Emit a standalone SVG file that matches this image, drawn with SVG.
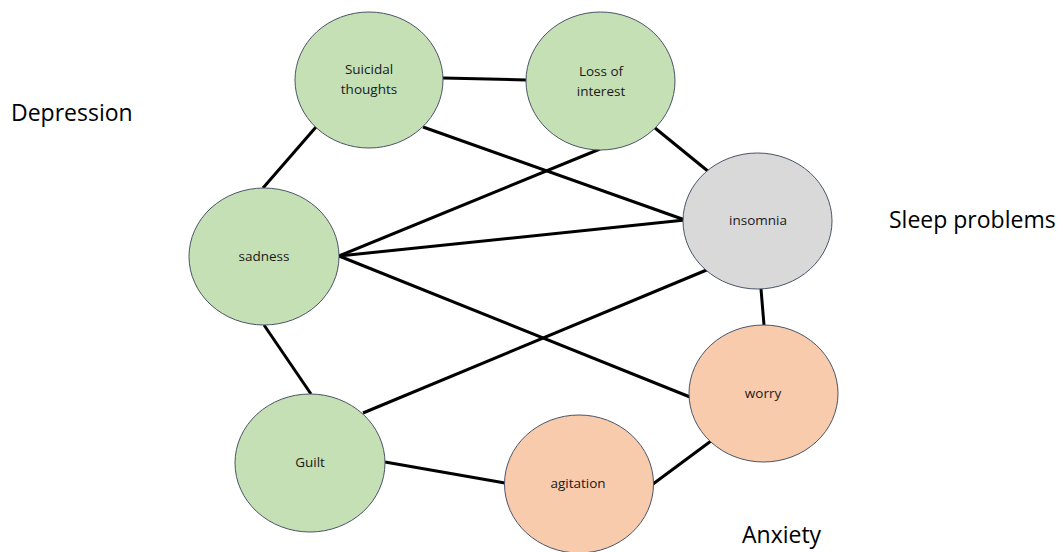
<svg xmlns="http://www.w3.org/2000/svg" width="1063" height="552" viewBox="0 0 1063 552">
<style>
.edge{stroke:#000;stroke-width:3;fill:none;stroke-linecap:butt}
.node{stroke:#4a5466;stroke-width:1}
.green{fill:#c5e0b4}
.gray{fill:#d9d9d9}
.orange{fill:#f8cbad}
.lbl{font-family:"Open Sans","Liberation Sans",sans-serif;font-size:13.5px;fill:#1a1a1a;text-anchor:middle}
.grp{font-family:"Open Sans","Liberation Sans",sans-serif;font-size:23px;fill:#000}
</style>
<rect width="1063" height="552" fill="#fff"/>
<g id="connectors">
<line class="edge" x1="443" y1="78" x2="526" y2="80"/>
<line class="edge" x1="316" y1="127" x2="263" y2="188"/>
<line class="edge" x1="423" y1="127" x2="685" y2="220"/>
<line class="edge" x1="655" y1="128" x2="709" y2="172"/>
<line class="edge" x1="600" y1="149" x2="339" y2="256"/>
<line class="edge" x1="339" y1="256" x2="685" y2="220"/>
<line class="edge" x1="339" y1="256" x2="690" y2="397"/>
<line class="edge" x1="264" y1="325" x2="311" y2="394"/>
<line class="edge" x1="363" y1="413" x2="709" y2="269"/>
<line class="edge" x1="761" y1="289" x2="764" y2="325"/>
<line class="edge" x1="385" y1="462" x2="505" y2="483"/>
<line class="edge" x1="653" y1="484" x2="711" y2="441"/>
</g>
<g id="suicidal-thoughts">
<ellipse class="node green" cx="369" cy="80" rx="74" ry="68"/>
<text class="lbl" x="369" y="74">Suicidal</text>
<text class="lbl" x="369" y="94">thoughts</text>
</g>
<g id="loss-of-interest">
<ellipse class="node green" cx="600.5" cy="81" rx="74.5" ry="69"/>
<text class="lbl" x="601" y="76">Loss of</text>
<text class="lbl" x="601" y="96">interest</text>
</g>
<g id="sadness">
<ellipse class="node green" cx="264" cy="256.5" rx="75" ry="68.5"/>
<text class="lbl" x="264" y="261">sadness</text>
</g>
<g id="insomnia">
<ellipse class="node gray" cx="757.5" cy="221" rx="74.5" ry="68"/>
<text class="lbl" x="758" y="225">insomnia</text>
</g>
<g id="worry">
<ellipse class="node orange" cx="763.5" cy="393.5" rx="74.5" ry="68.5"/>
<text class="lbl" x="763" y="398">worry</text>
</g>
<g id="guilt">
<ellipse class="node green" cx="310" cy="463" rx="75" ry="69"/>
<text class="lbl" x="310" y="467">Guilt</text>
</g>
<g id="agitation">
<ellipse class="node orange" cx="579" cy="484" rx="74.5" ry="69"/>
<text class="lbl" x="578" y="488">agitation</text>
</g>
<g id="group-labels">
<text class="grp" x="11" y="121">Depression</text>
<text class="grp" x="889" y="228">Sleep problems</text>
<text class="grp" x="742" y="543">Anxiety</text>
</g>
</svg>
